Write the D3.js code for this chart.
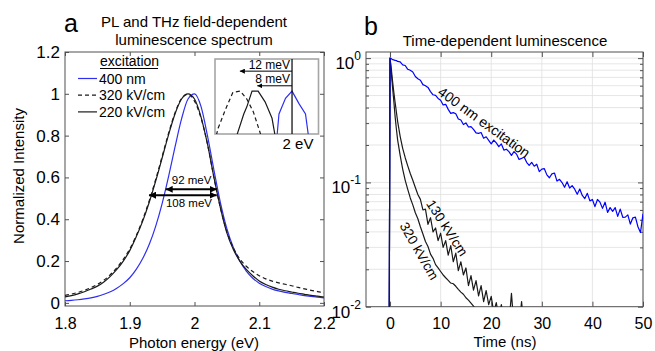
<!DOCTYPE html>
<html>
<head>
<meta charset="utf-8">
<script src="https://cdn.jsdelivr.net/npm/d3@7/dist/d3.min.js"></script>
<style>
  body { margin: 0; background: #fff; }
  svg text { font-family: "Liberation Sans", Arial, Helvetica, sans-serif; fill: #000; }
</style>
</head>
<body>
<svg id="chart"></svg>
<script>
// ---------- panel a : PL spectra ----------
const photonEnergy = [
  1.80, 1.81, 1.82, 1.83, 1.84, 1.85, 1.86, 1.87, 1.88, 1.89,
  1.90, 1.91, 1.92, 1.93, 1.94, 1.95, 1.96, 1.97, 1.98, 1.99,
  2.00, 2.01, 2.02, 2.03, 2.04, 2.05, 2.06, 2.07, 2.08, 2.09,
  2.10, 2.11, 2.12, 2.13, 2.14, 2.15, 2.16, 2.17, 2.18, 2.19, 2.20];
const pl400nm = [
  0.010, 0.012, 0.015, 0.019, 0.024, 0.031, 0.041, 0.053, 0.070, 0.092,
  0.120, 0.160, 0.212, 0.279, 0.366, 0.475, 0.605, 0.747, 0.880, 0.975,
  1.000, 0.940, 0.800, 0.635, 0.480, 0.355, 0.265, 0.200, 0.152, 0.118,
  0.094, 0.078, 0.066, 0.057, 0.050, 0.045, 0.040, 0.035, 0.031, 0.027, 0.024];
const pl320kV = [
  0.036, 0.042, 0.050, 0.060, 0.073, 0.088, 0.108, 0.135, 0.168, 0.208,
  0.258, 0.322, 0.398, 0.488, 0.590, 0.700, 0.812, 0.910, 0.978, 0.998,
  0.965, 0.885, 0.760, 0.600, 0.455, 0.340, 0.262, 0.210, 0.175, 0.150,
  0.130, 0.115, 0.104, 0.096, 0.089, 0.082, 0.074, 0.067, 0.060, 0.054, 0.048];
const pl220kV = [
  0.029, 0.035, 0.043, 0.053, 0.066, 0.080, 0.100, 0.127, 0.160, 0.200,
  0.250, 0.316, 0.391, 0.480, 0.582, 0.693, 0.805, 0.905, 0.975, 1.000,
  0.975, 0.890, 0.760, 0.600, 0.455, 0.335, 0.255, 0.200, 0.160, 0.130,
  0.105, 0.088, 0.075, 0.065, 0.058, 0.052, 0.046, 0.041, 0.036, 0.032, 0.028];
const aTicksX = [1.8, 1.9, 2, 2.1, 2.2];
const aTicksY = [0, 0.2, 0.4, 0.6, 0.8, 1, 1.2];
const legendLabels = ['400 nm', '320 kV/cm', '220 kV/cm'];
const fwhmLabels = ['92 meV', '108 meV'];
const fwhmFrom = [1.9555, 1.9297];
const fwhmTo = [2.0343, 2.0343];
const fwhmLevel = [0.543, 0.515];

// inset: zoom on the peak tops
const inset400Energy = [1.9960, 1.9970, 1.9985, 2.0000, 2.0016, 2.0031, 2.0046];
const inset400 = [0.9900, 0.9968, 0.9990, 1.0000, 0.99825, 0.9968, 0.9900];
const inset220Energy = [1.9858, 1.9889, 1.9896, 1.9908, 1.9922, 1.9938, 1.9954, 1.9969];
const inset220 = [0.9910, 0.9968, 0.9978, 1.0000, 1.0000, 0.9985, 0.9962, 0.9910];
const inset320Energy = [1.9814, 1.9830, 1.9846, 1.9864, 1.9881, 1.9896, 1.9911, 1.9927, 1.9942];
const inset320 = [0.9910, 0.9948, 0.9973, 0.99985, 1.0000, 0.9989, 0.9971, 0.9941, 0.9910];
const shiftLabels = ['12 meV', '8 meV'];
const shiftTo = [1.988, 1.992];
const shiftLevel = [1.0028, 1.00075];

// ---------- panel b : decays ----------
const decayTime = [
  -0.2, 0, 0.25, 0.5, 0.75, 1, 1.25, 1.5,
  2, 2.5, 3, 3.5, 4, 4.5, 5, 5.5, 6, 6.5,
  7, 7.5, 8, 8.5, 9, 9.5, 10, 10.5, 11, 11.5,
  12, 12.5, 13, 13.5, 14, 14.5, 15, 15.5, 16, 16.5,
  17, 17.5, 18, 18.5, 19, 19.5, 20, 20.5, 21, 21.5,
  22, 22.5, 23, 23.5, 24, 24.5, 25, 25.5, 26, 26.5,
  27, 27.5, 28, 28.5, 29, 29.5, 30, 30.5, 31, 31.5,
  32, 32.5, 33, 33.5, 34, 34.5, 35, 35.5, 36, 36.5,
  37, 37.5, 38, 38.5, 39, 39.5, 40, 40.5, 41, 41.5,
  42, 42.5, 43, 43.5, 44, 44.5, 45, 45.5, 46, 46.5,
  47, 47.5, 48, 48.5, 49, 49.5, 50];
const decay400nm = [
  0.002, 1.000, 0.990, 0.972, 0.968, 0.958, 0.955, 0.940,
  0.933, 0.883, 0.872, 0.813, 0.798, 0.774, 0.712, 0.682, 0.664, 0.612,
  0.600, 0.581, 0.538, 0.507, 0.502, 0.474, 0.458, 0.420, 0.425, 0.387,
  0.359, 0.364, 0.357, 0.324, 0.318, 0.292, 0.301, 0.279, 0.281, 0.267,
  0.250, 0.248, 0.252, 0.227, 0.233, 0.218, 0.204, 0.219, 0.208, 0.194,
  0.204, 0.182, 0.185, 0.177, 0.165, 0.177, 0.169, 0.153, 0.156, 0.160,
  0.145, 0.137, 0.145, 0.135, 0.140, 0.122, 0.128, 0.129, 0.115, 0.109,
  0.117, 0.119, 0.1025, 0.106, 0.0997, 0.0913, 0.1013, 0.0901, 0.0942, 0.0882,
  0.0802, 0.0884, 0.0786, 0.0742, 0.0817, 0.0710, 0.0729, 0.0638, 0.0729, 0.0693,
  0.0618, 0.0693, 0.0574, 0.0627, 0.0585, 0.0627, 0.0533, 0.0610, 0.0524, 0.0526,
  0.0548, 0.0462, 0.0519, 0.0526, 0.0440, 0.0395, 0.0560];
const decay130kV = [
  0.002, 1.0, 0.82, 0.65, 0.53, 0.44, 0.37, 0.31,
  0.235, 0.188, 0.158, 0.136, 0.118, 0.104, 0.091, 0.080, 0.073, 0.060,
  0.061, 0.046, 0.052, 0.040, 0.043, 0.034, 0.039, 0.030, 0.034, 0.026,
  0.031, 0.023, 0.027, 0.0195, 0.023, 0.018, 0.0205, 0.0148, 0.0178, 0.0136,
  0.0162, 0.0122, 0.0148, 0.0110, 0.0135, 0.0104, 0.0121, 0.0090, 0.0108, 0.0082,
  0.0104, 0.0078, 0.0086, 0.0072, 0.0128, 0.0070, 0.0076, 0.0068, 0.0110, 0.0066,
  0.0062, 0.0058, 0.0066, 0.0055, 0.0060, 0.0052, 0.0058, 0.0050, 0.0056, 0.0049,
  0.0054, 0.0047, 0.0053, 0.0046, 0.0051, 0.0045, 0.0050, 0.0044, 0.0049, 0.0043,
  0.0048, 0.0042, 0.0047, 0.0041, 0.0046, 0.0040, 0.0045, 0.0040, 0.0044, 0.0039,
  0.0043, 0.0038, 0.0042, 0.0038, 0.0041, 0.0037, 0.0040, 0.0036, 0.0040, 0.0036,
  0.0039, 0.0035, 0.0038, 0.0035, 0.0038, 0.0034, 0.0037];
const decay320kV = [
  0.002, 1.0, 0.76, 0.58, 0.45, 0.34, 0.27, 0.22,
  0.165, 0.128, 0.104, 0.088, 0.075, 0.066, 0.057, 0.051, 0.044, 0.0385,
  0.0335, 0.0305, 0.0265, 0.0245, 0.0218, 0.0205, 0.0192, 0.0180, 0.0171, 0.0163,
  0.0155, 0.0153, 0.0146, 0.0138, 0.0131, 0.0126, 0.0118, 0.0113, 0.0107, 0.0101,
  0.0095, 0.0091, 0.0086, 0.0083, 0.0079, 0.0077, 0.0073, 0.0071, 0.0068, 0.0066,
  0.0064, 0.0063, 0.0061, 0.0060, 0.0058, 0.0057, 0.0056, 0.0055, 0.0054, 0.0053,
  0.0052, 0.0051, 0.0050, 0.0050, 0.0049, 0.0048, 0.0048, 0.0047, 0.0047, 0.0046,
  0.0046, 0.0045, 0.0045, 0.0044, 0.0044, 0.0043, 0.0043, 0.0042, 0.0042, 0.0041,
  0.0041, 0.0040, 0.0040, 0.0040, 0.0039, 0.0039, 0.0038, 0.0038, 0.0038, 0.0037,
  0.0037, 0.0037, 0.0036, 0.0036, 0.0036, 0.0035, 0.0035, 0.0035, 0.0034, 0.0034,
  0.0034, 0.0034, 0.0033, 0.0033, 0.0033, 0.0033, 0.0032];
const bTicksX = [0, 10, 20, 30, 40, 50];
const bTicksY = [0.01, 0.1, 1];
const bMinorY = [0.02, 0.03, 0.04, 0.05, 0.06, 0.07, 0.08, 0.09,
  0.2, 0.3, 0.4, 0.5, 0.6, 0.7, 0.8, 0.9];
const curveLabels = ['400 nm excitation', '130 kV/cm', '320 kV/cm'];
const curveLabelAt = [[18.6, 0.305], [11.3, 0.043], [5.8, 0.028]];
const curveLabelAngle = [36, 57, 60];

const blueA = '#2f2ff0';
const blueB = '#0000ff';
const ink = '#1a1a1a';
const frame = '#505050';

const svg = d3.select('#chart').attr('width', 655).attr('height', 351);
const defs = svg.append('defs');

const head = (id, size) => {
  defs.append('marker')
    .attr('id', id)
    .attr('viewBox', '0 0 10 10')
    .attr('refX', 10).attr('refY', 5)
    .attr('markerUnits', 'userSpaceOnUse')
    .attr('markerWidth', size).attr('markerHeight', size)
    .attr('orient', 'auto-start-reverse')
    .append('path')
    .attr('d', 'M0,0L10,5L0,10z')
    .attr('fill', '#000');
};
head('headA', 7);
head('headI', 5);

const clip = (id, x, y, w, h) => {
  defs.append('clipPath').attr('id', id)
    .append('rect').attr('x', x).attr('y', y).attr('width', w).attr('height', h);
};

const styleAxis = g => {
  g.select('.domain').remove();
  g.selectAll('.tick line').attr('stroke', frame);
  g.selectAll('.tick text').attr('fill', '#000');
};

// ================= panel a =================
const aBox = { left: 65, right: 324, top: 52, bottom: 306 };
const xA = d3.scaleLinear().domain([1.8, 2.2]).range([aBox.left, aBox.right]);
const yA = d3.scaleLinear().domain([-0.015, 1.2]).range([aBox.bottom, aBox.top]);
clip('clipA', aBox.left, aBox.top, aBox.right - aBox.left, aBox.bottom - aBox.top);

const gA = svg.append('g');

gA.append('g')
  .attr('transform', `translate(0,${aBox.bottom})`)
  .call(d3.axisBottom(xA).tickValues(aTicksX).tickFormat(d3.format(''))
    .tickSizeInner(-4).tickSizeOuter(0).tickPadding(11.5))
  .call(styleAxis)
  .selectAll('text').attr('font-size', 16);
gA.append('g')
  .attr('transform', `translate(0,${aBox.top})`)
  .call(d3.axisTop(xA).tickValues(aTicksX).tickFormat('').tickSizeInner(-4).tickSizeOuter(0))
  .call(styleAxis);
gA.append('g')
  .attr('transform', `translate(${aBox.left},0)`)
  .call(d3.axisLeft(yA).tickValues(aTicksY).tickFormat(d3.format(''))
    .tickSizeInner(-4).tickSizeOuter(0).tickPadding(5))
  .call(styleAxis)
  .selectAll('text').attr('font-size', 17);
gA.append('g')
  .attr('transform', `translate(${aBox.right},0)`)
  .call(d3.axisRight(yA).tickValues(aTicksY).tickFormat('').tickSizeInner(-4).tickSizeOuter(0))
  .call(styleAxis);

gA.append('rect')
  .attr('x', aBox.left).attr('y', aBox.top)
  .attr('width', aBox.right - aBox.left).attr('height', aBox.bottom - aBox.top)
  .attr('fill', 'none').attr('stroke', frame).attr('stroke-width', 1);

const lineA = d3.line()
  .x(d => xA(d[0])).y(d => yA(d[1]))
  .curve(d3.curveMonotoneX);

const spectra = [
  { values: pl400nm, color: blueA, dash: null, width: 1.2 },
  { values: pl320kV, color: ink, dash: '4,3', width: 1.2 },
  { values: pl220kV, color: ink, dash: null, width: 1.2 }
];

const plotA = gA.append('g').attr('clip-path', 'url(#clipA)');
spectra.forEach(s => {
  plotA.append('path')
    .datum(d3.zip(photonEnergy, s.values))
    .attr('d', lineA)
    .attr('fill', 'none')
    .attr('stroke', s.color)
    .attr('stroke-width', s.width)
    .attr('stroke-dasharray', s.dash);
});

// FWHM arrows
fwhmLabels.forEach((lab, i) => {
  plotA.append('line')
    .attr('x1', xA(fwhmFrom[i])).attr('x2', xA(fwhmTo[i]))
    .attr('y1', yA(fwhmLevel[i])).attr('y2', yA(fwhmLevel[i]))
    .attr('stroke', '#000').attr('stroke-width', 2)
    .attr('marker-start', 'url(#headA)').attr('marker-end', 'url(#headA)');
});
gA.append('text')
  .attr('x', xA(1.9955)).attr('y', yA(fwhmLevel[0]) - 5)
  .attr('text-anchor', 'middle').attr('font-size', 11.5).text(fwhmLabels[0]);
gA.append('text')
  .attr('x', xA(1.9915)).attr('y', yA(fwhmLevel[1]) + 12)
  .attr('text-anchor', 'middle').attr('font-size', 11.5).text(fwhmLabels[1]);

// legend
const leg = gA.append('g');
leg.append('text').attr('x', 100).attr('y', 66).attr('font-size', 14).text('excitation');
leg.append('line').attr('x1', 100).attr('x2', 158).attr('y1', 68.5).attr('y2', 68.5)
  .attr('stroke', '#000').attr('stroke-width', 1);
legendLabels.forEach((lab, i) => {
  const y = 78.5 + i * 16.7;
  const s = spectra[i];
  leg.append('line').attr('x1', 78).attr('x2', 97).attr('y1', y).attr('y2', y)
    .attr('stroke', s.color).attr('stroke-width', s.width).attr('stroke-dasharray', s.dash);
  leg.append('text').attr('x', 99).attr('y', y + 5).attr('font-size', 14).text(lab);
});

// inset
const iBox = { left: 215, right: 318.5, top: 59, bottom: 134 };
const xI = d3.scaleLinear().domain([1.98228, 2.00609]).range([iBox.left, iBox.right]);
const yI = d3.scaleLinear().domain([0.994, 1.0045]).range([iBox.bottom, iBox.top]);
clip('clipI', iBox.left, iBox.top, iBox.right - iBox.left, iBox.bottom - iBox.top);

gA.append('rect')
  .attr('x', iBox.left).attr('y', iBox.top)
  .attr('width', iBox.right - iBox.left).attr('height', iBox.bottom - iBox.top)
  .attr('fill', '#fff').attr('stroke', '#a6a6a6').attr('stroke-width', 1.6);

const lineI = d3.line().x(d => xI(d[0])).y(d => yI(d[1]));
const plotI = gA.append('g').attr('clip-path', 'url(#clipI)');
[
  { e: inset400Energy, v: inset400, s: spectra[0] },
  { e: inset320Energy, v: inset320, s: spectra[1] },
  { e: inset220Energy, v: inset220, s: spectra[2] }
].forEach(c => {
  plotI.append('path')
    .datum(d3.zip(c.e, c.v))
    .attr('d', lineI)
    .attr('fill', 'none')
    .attr('stroke', c.s.color)
    .attr('stroke-width', c.s.width)
    .attr('stroke-dasharray', c.s.dash);
});
plotI.append('line')
  .attr('x1', xI(2)).attr('x2', xI(2)).attr('y1', iBox.top).attr('y2', iBox.bottom)
  .attr('stroke', '#000').attr('stroke-width', 1.2);
shiftLabels.forEach((lab, i) => {
  plotI.append('line')
    .attr('x1', xI(2)).attr('x2', xI(shiftTo[i]))
    .attr('y1', yI(shiftLevel[i])).attr('y2', yI(shiftLevel[i]))
    .attr('stroke', '#000').attr('stroke-width', 1)
    .attr('marker-end', 'url(#headI)');
  gA.append('text')
    .attr('x', xI(2) - 2).attr('y', yI(shiftLevel[i]) - 2.5)
    .attr('text-anchor', 'end').attr('font-size', 12).text(lab);
});
gA.append('text')
  .attr('x', xI(2) + 6).attr('y', 149)
  .attr('text-anchor', 'middle').attr('font-size', 15).text('2 eV');

// titles and labels
gA.append('text').attr('x', 64).attr('y', 32).attr('font-size', 25).text('a');
gA.append('text').attr('x', 194).attr('y', 27).attr('text-anchor', 'middle')
  .attr('font-size', 15).text('PL and THz field-dependent');
gA.append('text').attr('x', 194).attr('y', 45).attr('text-anchor', 'middle')
  .attr('font-size', 15).text('luminescence spectrum');
gA.append('text').attr('x', 194).attr('y', 347.5).attr('text-anchor', 'middle')
  .attr('font-size', 15).text('Photon energy (eV)');
gA.append('text')
  .attr('transform', 'translate(24,176) rotate(-90)')
  .attr('text-anchor', 'middle').attr('font-size', 15).text('Normalized Intensity');

// ================= panel b =================
const bBox = { left: 366, right: 643, top: 52, bottom: 306.7 };
const xB = d3.scaleLinear().domain([-4.75, 50]).range([bBox.left, bBox.right]);
const yB = d3.scaleLog().domain([0.01, 1.12]).range([bBox.bottom, bBox.top]);
clip('clipB', bBox.left, bBox.top, bBox.right - bBox.left, bBox.bottom - bBox.top);

const gB = svg.append('g');

// grid
const grid = gB.append('g').attr('stroke', '#e0e0e0').attr('stroke-width', 0.8);
grid.selectAll('.gx').data(bTicksX).enter().append('line')
  .attr('x1', d => xB(d)).attr('x2', d => xB(d))
  .attr('y1', bBox.top).attr('y2', bBox.bottom);
grid.selectAll('.gy').data(bMinorY.concat([0.1, 1])).enter().append('line')
  .attr('x1', bBox.left).attr('x2', bBox.right)
  .attr('y1', d => yB(d)).attr('y2', d => yB(d));

gB.append('g')
  .attr('transform', `translate(0,${bBox.bottom})`)
  .call(d3.axisBottom(xB).tickValues(bTicksX).tickFormat(d3.format(''))
    .tickSizeInner(-5).tickSizeOuter(0).tickPadding(11))
  .call(styleAxis)
  .selectAll('text').attr('font-size', 16);
gB.append('g')
  .attr('transform', `translate(0,${bBox.top})`)
  .call(d3.axisTop(xB).tickValues(bTicksX).tickFormat('').tickSizeInner(-5).tickSizeOuter(0))
  .call(styleAxis);

const yAxisLeft = gB.append('g')
  .attr('transform', `translate(${bBox.left},0)`)
  .call(d3.axisLeft(yB).tickValues(bTicksY).tickFormat('')
    .tickSizeInner(-5).tickSizeOuter(0).tickPadding(5))
  .call(styleAxis);
yAxisLeft.selectAll('.tick text')
  .attr('font-size', 17).attr('dy', '0.62em')
  .each(function (d) {
    const t = d3.select(this);
    t.append('tspan').text('10');
    t.append('tspan').attr('dy', -9).attr('font-size', 12).text(Math.round(Math.log10(d)));
  });
gB.append('g')
  .attr('transform', `translate(${bBox.left},0)`)
  .call(d3.axisLeft(yB).tickValues(bMinorY).tickFormat('').tickSizeInner(-3).tickSizeOuter(0))
  .call(styleAxis);
gB.append('g')
  .attr('transform', `translate(${bBox.right},0)`)
  .call(d3.axisRight(yB).tickValues(bTicksY).tickFormat('').tickSizeInner(-5).tickSizeOuter(0))
  .call(styleAxis);
gB.append('g')
  .attr('transform', `translate(${bBox.right},0)`)
  .call(d3.axisRight(yB).tickValues(bMinorY).tickFormat('').tickSizeInner(-3).tickSizeOuter(0))
  .call(styleAxis);

gB.append('rect')
  .attr('x', bBox.left).attr('y', bBox.top)
  .attr('width', bBox.right - bBox.left).attr('height', bBox.bottom - bBox.top)
  .attr('fill', 'none').attr('stroke', frame).attr('stroke-width', 1);

const lineB = d3.line().x(d => xB(d[0])).y(d => yB(d[1]));
const plotB = gB.append('g').attr('clip-path', 'url(#clipB)');
[
  { v: decay320kV, color: ink },
  { v: decay130kV, color: ink },
  { v: decay400nm, color: blueB }
].forEach(s => {
  plotB.append('path')
    .datum(d3.zip(decayTime, s.v))
    .attr('d', lineB)
    .attr('fill', 'none')
    .attr('stroke', s.color)
    .attr('stroke-width', 1.2)
    .attr('stroke-linejoin', 'round');
});

curveLabels.forEach((lab, i) => {
  const [t, v] = curveLabelAt[i];
  gB.append('text')
    .attr('transform', `translate(${xB(t)},${yB(v)}) rotate(${curveLabelAngle[i]})`)
    .attr('text-anchor', 'middle').attr('dy', '0.35em')
    .attr('font-size', i === 0 ? 14 : 13.5).text(lab);
});

gB.append('text').attr('x', 364).attr('y', 35).attr('font-size', 25).text('b');
gB.append('text').attr('x', 505).attr('y', 46).attr('text-anchor', 'middle')
  .attr('font-size', 15).text('Time-dependent luminescence');
gB.append('text').attr('x', 505).attr('y', 347).attr('text-anchor', 'middle')
  .attr('font-size', 15).text('Time (ns)');
</script>
</body>
</html>
